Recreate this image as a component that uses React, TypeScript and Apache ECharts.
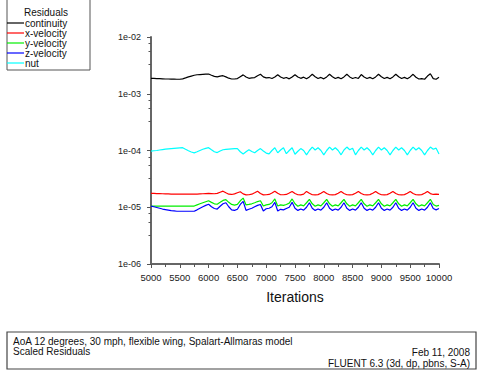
import React, { useEffect, useRef } from "react";
import * as echarts from "echarts";

// Iteration grid shared by every residual history (step 50)
const iterations: number[] = Array.from({ length: 101 }, (_, i) => 5000 + i * 50);

const continuity: number[] = [
  1.87e-3, 1.86e-3, 1.85e-3, 1.84e-3, 1.83e-3, 1.82e-3, 1.82e-3, 1.81e-3, 1.81e-3, 1.8e-3,
  1.8e-3, 1.83e-3, 1.9e-3, 1.98e-3, 2.05e-3, 2.12e-3, 2.16e-3, 2.18e-3, 2.2e-3, 2.22e-3,
  2.23e-3, 2.12e-3, 2.02e-3, 1.98e-3, 2.04e-3, 2.08e-3, 1.98e-3, 1.88e-3, 1.82e-3, 1.82e-3,
  1.85e-3, 2.0e-3, 2.15e-3, 1.98e-3, 1.87e-3, 1.9e-3, 1.93e-3, 2.08e-3, 2.2e-3, 1.98e-3,
  1.9e-3, 1.93e-3, 1.86e-3, 1.98e-3, 2.16e-3, 1.98e-3, 1.87e-3, 1.93e-3, 1.83e-3, 1.98e-3,
  2.17e-3, 1.98e-3, 1.87e-3, 1.96e-3, 1.83e-3, 1.98e-3, 2.2e-3, 2.0e-3, 1.86e-3, 1.94e-3,
  1.83e-3, 1.98e-3, 2.2e-3, 2.0e-3, 1.86e-3, 1.94e-3, 1.84e-3, 1.98e-3, 2.2e-3, 1.98e-3,
  1.86e-3, 1.93e-3, 1.86e-3, 2.18e-3, 1.98e-3, 1.86e-3, 1.94e-3, 1.84e-3, 1.98e-3, 2.2e-3,
  1.99e-3, 1.86e-3, 1.94e-3, 1.84e-3, 1.98e-3, 2.2e-3, 1.99e-3, 1.86e-3, 1.94e-3, 1.84e-3,
  1.98e-3, 2.2e-3, 1.95e-3, 1.82e-3, 1.85e-3, 1.8e-3, 2.05e-3, 2.25e-3, 1.85e-3, 1.8e-3,
  1.95e-3,
];

const xVelocity: number[] = [
  1.76e-5, 1.75e-5, 1.74e-5, 1.74e-5, 1.73e-5, 1.72e-5, 1.72e-5, 1.71e-5, 1.71e-5, 1.7e-5,
  1.7e-5, 1.7e-5, 1.7e-5, 1.7e-5, 1.7e-5, 1.7e-5, 1.71e-5, 1.72e-5, 1.73e-5, 1.74e-5,
  1.75e-5, 1.74e-5, 1.73e-5, 1.76e-5, 1.84e-5, 1.92e-5, 1.8e-5, 1.7e-5, 1.68e-5, 1.72e-5,
  1.8e-5, 1.88e-5, 1.72e-5, 1.65e-5, 1.66e-5, 1.7e-5, 1.8e-5, 1.92e-5, 1.75e-5, 1.65e-5,
  1.66e-5, 1.68e-5, 1.78e-5, 1.92e-5, 1.76e-5, 1.66e-5, 1.66e-5, 1.68e-5, 1.78e-5, 1.9e-5,
  1.75e-5, 1.66e-5, 1.65e-5, 1.7e-5, 1.9e-5, 1.76e-5, 1.66e-5, 1.65e-5, 1.67e-5, 1.76e-5,
  1.9e-5, 1.75e-5, 1.66e-5, 1.65e-5, 1.67e-5, 1.76e-5, 1.9e-5, 1.75e-5, 1.66e-5, 1.65e-5,
  1.67e-5, 1.76e-5, 1.9e-5, 1.75e-5, 1.66e-5, 1.65e-5, 1.67e-5, 1.76e-5, 1.9e-5, 1.75e-5,
  1.66e-5, 1.65e-5, 1.67e-5, 1.76e-5, 1.9e-5, 1.75e-5, 1.66e-5, 1.65e-5, 1.67e-5, 1.76e-5,
  1.9e-5, 1.75e-5, 1.66e-5, 1.65e-5, 1.67e-5, 1.76e-5, 1.9e-5, 1.74e-5, 1.68e-5, 1.7e-5,
  1.68e-5,
];

const yVelocity: number[] = [
  1.05e-5, 1.05e-5, 1.05e-5, 1.05e-5, 1.05e-5, 1.05e-5, 1.05e-5, 1.05e-5, 1.05e-5, 1.05e-5,
  1.05e-5, 1.05e-5, 1.05e-5, 1.05e-5, 1.05e-5, 1.05e-5, 1.1e-5, 1.15e-5, 1.2e-5, 1.25e-5,
  1.3e-5, 1.22e-5, 1.15e-5, 1.13e-5, 1.22e-5, 1.32e-5, 1.36e-5, 1.22e-5, 1.12e-5, 1.09e-5,
  1.12e-5, 1.3e-5, 1.45e-5, 1.1e-5, 1.12e-5, 1.15e-5, 1.2e-5, 1.26e-5, 1.3e-5, 1.05e-5,
  1.1e-5, 1.12e-5, 1.2e-5, 1.4e-5, 1.05e-5, 1.1e-5, 1.08e-5, 1.12e-5, 1.18e-5, 1.4e-5,
  1.15e-5, 1.04e-5, 1.1e-5, 1.06e-5, 1.2e-5, 1.38e-5, 1.15e-5, 1.04e-5, 1.1e-5, 1.06e-5,
  1.2e-5, 1.38e-5, 1.15e-5, 1.04e-5, 1.1e-5, 1.06e-5, 1.2e-5, 1.38e-5, 1.15e-5, 1.04e-5,
  1.1e-5, 1.06e-5, 1.2e-5, 1.38e-5, 1.15e-5, 1.04e-5, 1.1e-5, 1.06e-5, 1.2e-5, 1.38e-5,
  1.15e-5, 1.04e-5, 1.1e-5, 1.06e-5, 1.2e-5, 1.38e-5, 1.15e-5, 1.04e-5, 1.1e-5, 1.06e-5,
  1.2e-5, 1.38e-5, 1.15e-5, 1.04e-5, 1.1e-5, 1.06e-5, 1.2e-5, 1.38e-5, 1.12e-5, 1.05e-5,
  1.08e-5,
];

const zVelocity: number[] = [
  1.05e-5, 1.02e-5, 0.99e-5, 0.96e-5, 0.93e-5, 0.91e-5, 0.89e-5, 0.87e-5, 0.86e-5, 0.85e-5,
  0.85e-5, 0.85e-5, 0.85e-5, 0.85e-5, 0.85e-5, 0.85e-5, 0.9e-5, 0.96e-5, 1.02e-5, 1.08e-5,
  1.13e-5, 1.02e-5, 0.95e-5, 0.93e-5, 1.04e-5, 1.15e-5, 1.2e-5, 1.02e-5, 0.9e-5, 0.88e-5,
  0.92e-5, 1.12e-5, 1.27e-5, 0.88e-5, 0.92e-5, 0.96e-5, 1.02e-5, 1.08e-5, 1.12e-5, 0.86e-5,
  0.94e-5, 0.96e-5, 1.02e-5, 1.22e-5, 0.86e-5, 0.92e-5, 0.9e-5, 0.95e-5, 1.0e-5, 1.22e-5,
  0.96e-5, 0.88e-5, 0.93e-5, 0.89e-5, 1.0e-5, 1.2e-5, 0.96e-5, 0.88e-5, 0.93e-5, 0.89e-5,
  1.0e-5, 1.2e-5, 0.96e-5, 0.88e-5, 0.93e-5, 0.89e-5, 1.0e-5, 1.2e-5, 0.96e-5, 0.88e-5,
  0.93e-5, 0.89e-5, 1.0e-5, 1.2e-5, 0.96e-5, 0.88e-5, 0.93e-5, 0.89e-5, 1.0e-5, 1.2e-5,
  0.96e-5, 0.88e-5, 0.93e-5, 0.89e-5, 1.0e-5, 1.2e-5, 0.96e-5, 0.88e-5, 0.93e-5, 0.89e-5,
  1.0e-5, 1.2e-5, 0.96e-5, 0.88e-5, 0.93e-5, 0.89e-5, 1.0e-5, 1.2e-5, 0.95e-5, 0.9e-5,
  0.95e-5,
];

const nut: number[] = [
  9.75e-5, 9.9e-5, 1.0e-4, 1.02e-4, 1.04e-4, 1.06e-4, 1.07e-4, 1.08e-4, 1.09e-4, 1.1e-4,
  1.11e-4, 1.12e-4, 1.05e-4, 0.99e-4, 0.94e-4, 0.91e-4, 0.95e-4, 1.0e-4, 1.05e-4, 1.09e-4,
  1.12e-4, 1.03e-4, 0.95e-4, 0.92e-4, 0.98e-4, 1.03e-4, 1.05e-4, 1.06e-4, 1.07e-4, 1.08e-4,
  1.08e-4, 0.95e-4, 0.87e-4, 0.95e-4, 1.03e-4, 0.96e-4, 0.91e-4, 1.0e-4, 1.08e-4, 0.98e-4,
  0.9e-4, 0.87e-4, 1.0e-4, 1.12e-4, 0.91e-4, 1.02e-4, 1.12e-4, 0.88e-4, 1.0e-4, 1.12e-4,
  0.86e-4, 0.97e-4, 1.08e-4, 1.0e-4, 0.84e-4, 1.0e-4, 1.15e-4, 1.02e-4, 1.12e-4, 1.0e-4,
  0.84e-4, 1.0e-4, 1.15e-4, 1.02e-4, 1.12e-4, 1.0e-4, 0.84e-4, 1.02e-4, 1.15e-4, 1.03e-4,
  1.1e-4, 0.84e-4, 1.0e-4, 1.15e-4, 1.02e-4, 1.12e-4, 1.0e-4, 0.84e-4, 1.0e-4, 1.15e-4,
  1.02e-4, 1.12e-4, 1.0e-4, 0.84e-4, 1.0e-4, 1.15e-4, 1.02e-4, 1.12e-4, 1.0e-4, 0.84e-4,
  1.0e-4, 1.15e-4, 1.02e-4, 1.12e-4, 1.0e-4, 0.84e-4, 1.0e-4, 1.15e-4, 1.05e-4, 1.1e-4,
  0.87e-4,
];

const seriesNames: string[] = ["continuity", "x-velocity", "y-velocity", "z-velocity", "nut"];
const seriesColors: string[] = ["#000000", "#ff0000", "#00ee00", "#0000ff", "#00ffff"];
const seriesValues: number[][] = [continuity, xVelocity, yVelocity, zVelocity, nut];

const legendTitle = "Residuals";
const xAxisName = "Iterations";
const footerLeft: string[] = ["AoA 12 degrees, 30 mph, flexible wing, Spalart-Allmaras model", "Scaled Residuals"];
const footerDate = "Feb 11, 2008";
const footerSolver = "FLUENT 6.3 (3d, dp, pbns, S-A)";

const FONT = "'Liberation Sans', Arial, Helvetica, sans-serif";

function formatExp(v: number): string {
  const e = Math.round(Math.log10(v));
  const sign = e < 0 ? "-" : "+";
  const mag = Math.abs(e).toString().padStart(2, "0");
  return `1e${sign}${mag}`;
}

export default function App() {
  const ref = useRef<HTMLDivElement>(null);

  useEffect(() => {
    if (!ref.current) return;
    const chart = echarts.init(ref.current, undefined, { renderer: "svg" });

    const legendItems: any[] = [
      {
        type: "rect",
        shape: { x: 7, y: -1, width: 83, height: 71 },
        style: { fill: "#fff", stroke: "#555", lineWidth: 1 },
      },
      {
        type: "text",
        x: 46,
        y: 12,
        style: { text: legendTitle, font: `10px ${FONT}`, fill: "#111", align: "center", verticalAlign: "middle" },
      },
    ];
    seriesNames.forEach((name, i) => {
      const y = 23 + i * 10;
      legendItems.push({
        type: "line",
        shape: { x1: 7, y1: y, x2: 24, y2: y },
        style: { stroke: seriesColors[i], lineWidth: 1.2 },
      });
      legendItems.push({
        type: "text",
        x: 25,
        y,
        style: { text: name, font: `10px ${FONT}`, fill: "#111", align: "left", verticalAlign: "middle" },
      });
    });

    const footerItems: any[] = [
      {
        type: "rect",
        shape: { x: 7, y: 332, width: 469, height: 37 },
        style: { fill: "#fff", stroke: "#444", lineWidth: 1.2 },
      },
      {
        type: "text",
        x: 13,
        y: 341,
        style: { text: footerLeft[0], font: `10px ${FONT}`, fill: "#111", verticalAlign: "middle" },
      },
      {
        type: "text",
        x: 13,
        y: 351,
        style: { text: footerLeft[1], font: `10px ${FONT}`, fill: "#111", verticalAlign: "middle" },
      },
      {
        type: "text",
        x: 470,
        y: 352,
        style: { text: footerDate, font: `10px ${FONT}`, fill: "#111", align: "right", verticalAlign: "middle" },
      },
      {
        type: "text",
        x: 470,
        y: 363,
        style: { text: footerSolver, font: `10px ${FONT}`, fill: "#111", align: "right", verticalAlign: "middle" },
      },
    ];

    chart.setOption({
      animation: false,
      backgroundColor: "#fff",
      textStyle: { fontFamily: FONT },
      grid: { left: 151, right: 43, top: 37, bottom: 113, containLabel: false },
      xAxis: {
        type: "value",
        min: 5000,
        max: 10000,
        interval: 500,
        name: xAxisName,
        nameLocation: "middle",
        nameGap: 26,
        nameTextStyle: { fontSize: 14, color: "#111", fontFamily: FONT },
        axisLine: { show: true, onZero: false, lineStyle: { color: "#666", width: 2 } },
        axisTick: { show: true, length: 4, lineStyle: { color: "#555", width: 1 } },
        minorTick: { show: true, splitNumber: 2, length: 3, lineStyle: { color: "#555", width: 1 } },
        axisLabel: {
          fontSize: 9.5,
          color: "#222",
          margin: 8,
          fontFamily: FONT,
          formatter: (v: number) => String(v),
        },
        splitLine: { show: false },
      },
      yAxis: {
        type: "log",
        logBase: 10,
        min: 1e-6,
        max: 1e-2,
        axisLine: { show: true, lineStyle: { color: "#666", width: 2 } },
        axisTick: { show: true, length: 4, lineStyle: { color: "#555", width: 1 } },
        minorTick: { show: true, splitNumber: 4, length: 2.5, lineStyle: { color: "#555", width: 1 } },
        axisLabel: { fontSize: 9, color: "#222", margin: 10, fontFamily: FONT, formatter: formatExp },
        splitLine: { show: false },
        minorSplitLine: { show: false },
      },
      series: seriesNames.map((name, i) => ({
        name,
        type: "line",
        showSymbol: false,
        symbol: "none",
        data: iterations.map((it, k) => [it, seriesValues[i][k]]),
        lineStyle: { color: seriesColors[i], width: 1.2 },
        itemStyle: { color: seriesColors[i] },
      })),
      graphic: [...legendItems, ...footerItems],
    });

    return () => chart.dispose();
  }, []);

  return (
    <div
      ref={ref}
      style={{ position: "fixed", left: 0, top: 0, width: 482, height: 377, background: "#fff" }}
    />
  );
}
